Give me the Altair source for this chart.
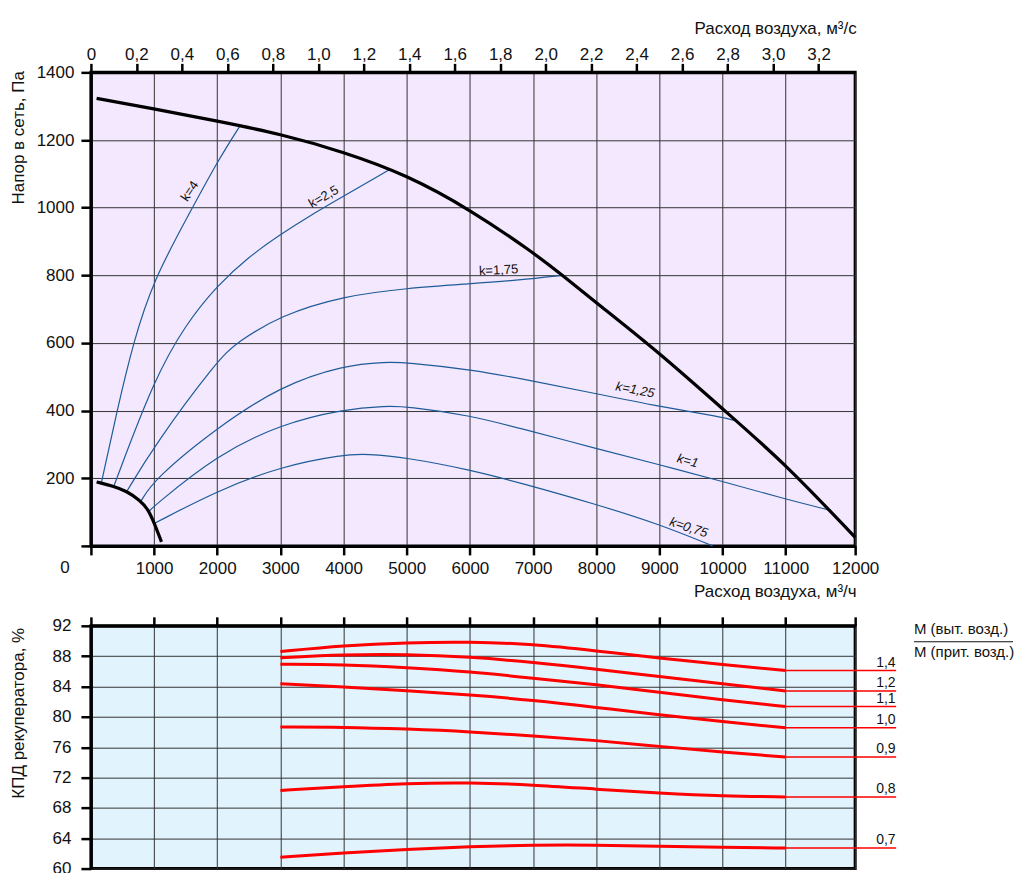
import altair as alt
import pandas as pd

FONT = "Liberation Sans"

# ---------------- upper chart: pressure (Pa) vs air flow (m3/h) ----------------
x_ticks = [0, 1000, 2000, 3000, 4000, 5000, 6000, 7000, 8000, 9000, 10000, 11000, 12100]
s_ticks = [0, 0.2, 0.4, 0.6, 0.8, 1.0, 1.2, 1.4, 1.6, 1.8, 2.0, 2.2, 2.4, 2.6, 2.8, 3.0, 3.2]
p_ticks = [0, 200, 400, 600, 800, 1000, 1200, 1400]

fan_x = [90, 1000, 2000, 3000, 4000, 5000, 6000, 7000, 7466, 8000, 9000, 10000, 11000, 12100]
fan_p = [1323, 1292, 1256, 1218, 1165, 1097, 995, 868, 800, 719, 571, 405, 242, 25]

low_x = [90, 353, 565, 775, 907, 1000, 1117]
low_p = [189, 177, 162, 135, 108, 69, 12]

k_names = ["k=4", "k=2,5", "k=1,75", "k=1,25", "k=1", "k=0,75"]
k_x = [
    [169, 406, 670, 985, 1593, 2014, 2357],
    [364, 1000, 1500, 2000, 2500, 3000, 3500, 4000, 4730],
    [565, 1000, 1997, 2305, 3005, 4002, 5003, 6000, 6786, 7466],
    [786, 1000, 1997, 3005, 4002, 4677, 5003, 6000, 7000, 8000, 9000, 9992, 10224],
    [917, 1000, 1997, 3005, 4002, 4677, 5003, 6000, 6786, 8000, 9000, 9992, 11000, 11690],
    [1000, 1997, 3005, 4002, 4361, 5003, 6000, 6786, 8000, 9000, 9843],
]
k_p = [
    [189, 394, 601, 785, 995, 1140, 1241],
    [177, 493, 655, 770, 855, 921, 980, 1034, 1113],
    [160, 296, 547, 601, 682, 739, 762, 775, 786, 800],
    [130, 197, 350, 473, 534, 544, 542, 522, 488, 450, 412, 381, 369],
    [102, 118, 269, 360, 404, 414, 412, 386, 348, 288, 240, 191, 138, 106],
    [66, 163, 235, 270, 272, 261, 225, 187, 123, 64, 0],
]
k_label_x = [1566, 3685, 6454, 8617, 9448, 9464]
k_label_p = [1049, 1032, 815, 461, 251, 54]
k_label_angle = [304, 330, 357, 11, 15, 18]
k_label_italic = [False, False, False, True, True, True]

# ---------------- lower chart: recuperator efficiency (%) ----------------
eff_x = [3000, 4000, 5000, 6000, 7000, 8000, 9000, 10000, 11000]
ratio_names = ["1,4", "1,2", "1,1", "1,0", "0,9", "0,8", "0,7"]
eff = [
    [88.6, 89.4, 89.8, 89.9, 89.6, 88.7, 87.75, 86.9, 86.1],
    [87.8, 88.2, 88.25, 87.9, 87.2, 86.3, 85.3, 84.35, 83.4],
    [86.95, 86.9, 86.5, 85.95, 85.1, 84.25, 83.25, 82.25, 81.35],
    [84.35, 83.95, 83.45, 82.9, 82.2, 81.25, 80.25, 79.4, 78.55],
    [78.65, 78.65, 78.4, 78.05, 77.5, 76.9, 76.1, 75.35, 74.7],
    [70.3, 70.8, 71.25, 71.35, 71.05, 70.45, 69.95, 69.55, 69.45],
    [61.5, 62.05, 62.55, 62.9, 63.1, 63.1, 62.95, 62.8, 62.7],
]
e_ticks = [60, 64, 68, 72, 76, 80, 84, 88, 92]
ext_end_x = 12749
ratio_label_x = 12586
legend_lines = ["М (выт. возд.)", "М (прит. возд.)"]
legend_x = 13031
legend_y = [91.57, 88.49]
legend_bar_x = [13031, 14600]
legend_bar_y = 89.9

# ---------------- tables ----------------
fan_df = pd.DataFrame({"x": fan_x, "p": fan_p, "i": range(len(fan_x))})
low_df = pd.DataFrame({"x": low_x, "p": low_p, "i": range(len(low_x))})
k_rows = []
for name, xs, ps in zip(k_names, k_x, k_p):
    for i, (xv, pv) in enumerate(zip(xs, ps)):
        k_rows.append({"k": name, "x": xv, "p": pv, "i": i})
k_df = pd.DataFrame(k_rows)
klab_df = pd.DataFrame({"t": k_names, "x": k_label_x, "p": k_label_p,
                        "a": k_label_angle, "it": k_label_italic})

e_rows = []
for name, vals in zip(ratio_names, eff):
    for i, (xv, v) in enumerate(zip(eff_x, vals)):
        e_rows.append({"r": name, "x": xv, "e": v, "i": i})
e_df = pd.DataFrame(e_rows)
ext_df = pd.DataFrame({"r": ratio_names, "x": [eff_x[-1]] * len(ratio_names),
                       "x2": [ext_end_x] * len(ratio_names),
                       "e": [v[-1] for v in eff], "lx": [ratio_label_x] * len(ratio_names)})
leg_df = pd.DataFrame({"t": legend_lines, "x": [legend_x] * 2, "e": legend_y})
bar_df = pd.DataFrame({"x": [legend_bar_x[0]], "x2": [legend_bar_x[1]], "e": [legend_bar_y]})

# ---------------- scales & axes ----------------
x_scale = alt.Scale(domain=[0, 12100], nice=False, zero=False)
p_scale = alt.Scale(domain=[0, 1400], nice=False)
e_scale = alt.Scale(domain=[60, 92], nice=False, zero=False)

ax = dict(labelFont=FONT, titleFont=FONT, labelFontSize=17, titleFontSize=17,
          labelColor="#111", titleColor="#111", titleFontWeight="normal",
          domainColor="black", domainWidth=3, tickColor="black", tickWidth=2.5,
          gridColor="#333", gridWidth=1, labelFlush=False, labelOverlap=False)

x_bottom_axis = alt.Axis(orient="bottom", values=x_ticks, format="d",
                         labelExpr="datum.value == 0 ? '' : (datum.value > 12000 ? '12000' : datum.label)",
                         tickSize=9, labelPadding=6, grid=True,
                         title="Расход воздуха, м³/ч", titleX=766, titleY=46,
                         titleAlign="right", titleBaseline="middle", **ax)
x_top_axis = alt.Axis(orient="top", values=[s * 3600 for s in s_ticks],
                      labelExpr="datum.value == 0 ? '0' : replace(format(datum.value / 3600, '.1f'), '.', ',')",
                      tickSize=9, labelPadding=0, grid=False,
                      title="Расход воздуха, м³/с", titleX=766, titleY=-44,
                      titleAlign="right", titleBaseline="middle", **ax)
p_axis = alt.Axis(values=p_ticks, format="d",
                  labelExpr="datum.value == 0 ? '' : datum.label",
                  tickSize=10, labelPadding=7, grid=True,
                  title="Напор в сеть, Па", titleAngle=270, titleX=-72, titleY=65,
                  titleAlign="center", titleBaseline="middle", **ax)
x_eff_axis = alt.Axis(orient="top", values=x_ticks, labels=False, tickSize=9,
                      grid=True, title="", **ax)
e_axis = alt.Axis(values=e_ticks, format="d", tickSize=10, labelPadding=10, grid=True,
                  title="КПД рекуператора, %", titleAngle=270, titleX=-72, titleY=87,
                  titleAlign="center", titleBaseline="middle", **ax)

CURVE = "basis"

# ---------------- upper chart ----------------
k_lines = alt.Chart(k_df).mark_line(color="#1f5b99", strokeWidth=1.2, interpolate=CURVE).encode(
    x=alt.X("x:Q", scale=x_scale, axis=x_bottom_axis),
    y=alt.Y("p:Q", scale=p_scale, axis=p_axis),
    detail="k:N", order="i:Q")
fan_line = alt.Chart(fan_df).mark_line(color="black", strokeWidth=3.2, interpolate=CURVE).encode(
    x=alt.X("x:Q", scale=x_scale, axis=x_top_axis),
    y=alt.Y("p:Q", scale=p_scale, axis=None), order="i:Q")
low_line = alt.Chart(low_df).mark_line(color="black", strokeWidth=3.2, interpolate=CURVE).encode(
    x=alt.X("x:Q", scale=x_scale, axis=None),
    y=alt.Y("p:Q", scale=p_scale, axis=None), order="i:Q")
klab_up = alt.Chart(klab_df).transform_filter("!datum.it").mark_text(
    font=FONT, fontSize=13, color="#111", baseline="middle").encode(
    x=alt.X("x:Q", scale=x_scale, axis=None), y=alt.Y("p:Q", scale=p_scale, axis=None),
    text="t:N", angle=alt.Angle("a:Q", scale=None))
klab_it = alt.Chart(klab_df).transform_filter("datum.it").mark_text(
    font=FONT, fontSize=13, color="#111", baseline="middle", fontStyle="italic").encode(
    x=alt.X("x:Q", scale=x_scale, axis=None), y=alt.Y("p:Q", scale=p_scale, axis=None),
    text="t:N", angle=alt.Angle("a:Q", scale=None))
zero_lab = alt.Chart(pd.DataFrame({"x": [0], "p": [0], "t": ["0"]})).mark_text(
    font=FONT, fontSize=17, color="#111", dx=-26, dy=22).encode(
    x=alt.X("x:Q", scale=x_scale, axis=None), y=alt.Y("p:Q", scale=p_scale, axis=None), text="t:N")

top = alt.layer(k_lines, fan_line, low_line, klab_up, klab_it, zero_lab).resolve_axis(
    x="independent", y="independent").properties(
    width=765, height=474,
    view=alt.ViewBackground(fill="#f3e8fe", stroke="black", strokeWidth=3))

# ---------------- lower chart ----------------
e_lines = alt.Chart(e_df).mark_line(color="#ff0000", strokeWidth=3, interpolate=CURVE).encode(
    x=alt.X("x:Q", scale=x_scale, axis=x_eff_axis),
    y=alt.Y("e:Q", scale=e_scale, axis=e_axis),
    detail="r:N", order="i:Q")
e_ext = alt.Chart(ext_df).mark_rule(color="#ff0000", strokeWidth=1.5).encode(
    x=alt.X("x:Q", scale=x_scale, axis=None), x2="x2:Q",
    y=alt.Y("e:Q", scale=e_scale, axis=None))
e_lab = alt.Chart(ext_df).mark_text(font=FONT, fontSize=14, color="#111", dy=-4,
                                    baseline="alphabetic").encode(
    x=alt.X("lx:Q", scale=x_scale, axis=None),
    y=alt.Y("e:Q", scale=e_scale, axis=None), text="r:N")
leg_txt = alt.Chart(leg_df).mark_text(font=FONT, fontSize=15, color="#111", align="left",
                                      baseline="middle").encode(
    x=alt.X("x:Q", scale=x_scale, axis=None),
    y=alt.Y("e:Q", scale=e_scale, axis=None), text="t:N")
leg_bar = alt.Chart(bar_df).mark_rule(color="#111", strokeWidth=1).encode(
    x=alt.X("x:Q", scale=x_scale, axis=None), x2="x2:Q",
    y=alt.Y("e:Q", scale=e_scale, axis=None))

bottom = alt.layer(e_lines, e_ext, e_lab, leg_txt, leg_bar).resolve_axis(
    x="independent", y="independent").properties(
    width=765, height=243,
    view=alt.ViewBackground(fill="#e1f3fc", stroke="black", strokeWidth=3))

chart = alt.vconcat(top, bottom, spacing=12).properties(
    padding={"left": 0, "top": 9, "right": 0, "bottom": 0}
).configure(font=FONT)

chart.save("out.html", embed_options={"renderer": "svg", "actions": False})
